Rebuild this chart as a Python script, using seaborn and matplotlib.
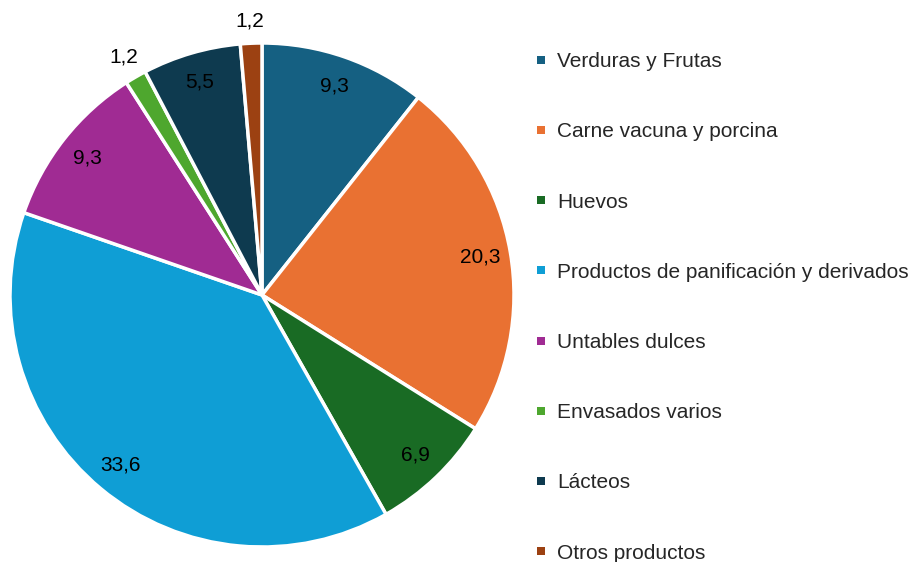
import numpy as np
import matplotlib
matplotlib.use("Agg")
import matplotlib.pyplot as plt
from matplotlib.lines import Line2D
import seaborn as sns

# Datos del gráfico
categorias = ["Verduras y Frutas", "Carne vacuna y porcina", "Huevos",
              "Productos de panificación y derivados", "Untables dulces",
              "Envasados varios", "Lácteos", "Otros productos"]
valores = [9.3, 20.3, 6.9, 33.6, 9.3, 1.2, 5.5, 1.2]
colores = ["#156082", "#E97132", "#196B24", "#0F9ED5",
           "#A02B93", "#4EA72E", "#0E3A4F", "#9C4112"]

sns.set_theme(style="white")
plt.rcParams["font.family"] = ["Liberation Sans", "DejaVu Sans"]

fig = plt.figure(figsize=(9.2, 5.62), dpi=100)
ax = fig.add_axes([10 / 920, 15 / 562, 504 / 920, 504 / 562])

paleta = sns.color_palette(colores)
wedges, _ = ax.pie(valores, colors=paleta, startangle=90,
                   counterclock=False,
                   wedgeprops=dict(edgecolor="white", linewidth=2.5))
ax.set_xlim(-1, 1)
ax.set_ylim(-1, 1)
ax.set_aspect("equal")

# Etiquetas de valor (las porciones pequeñas van afuera)
for w, v in zip(wedges, valores):
    ang = np.deg2rad((w.theta1 + w.theta2) / 2)
    r = 1.09 if v < 2 else 0.88
    ax.text(r * np.cos(ang), r * np.sin(ang), f"{v:.1f}".replace(".", ","),
            ha="center", va="center", fontsize=15, color="black", clip_on=False)

handles = [Line2D([], [], marker="s", linestyle="none", markersize=5.5,
                  markerfacecolor=c, markeredgewidth=0) for c in paleta]
fig.legend(handles, categorias, loc="upper left", bbox_to_anchor=(535 / 920, 1 - 52 / 562),
           frameon=False, fontsize=15, handlelength=0.6, handletextpad=0.45,
           labelspacing=2.46, borderpad=0, borderaxespad=0)

fig.savefig("out.png", dpi=100)
